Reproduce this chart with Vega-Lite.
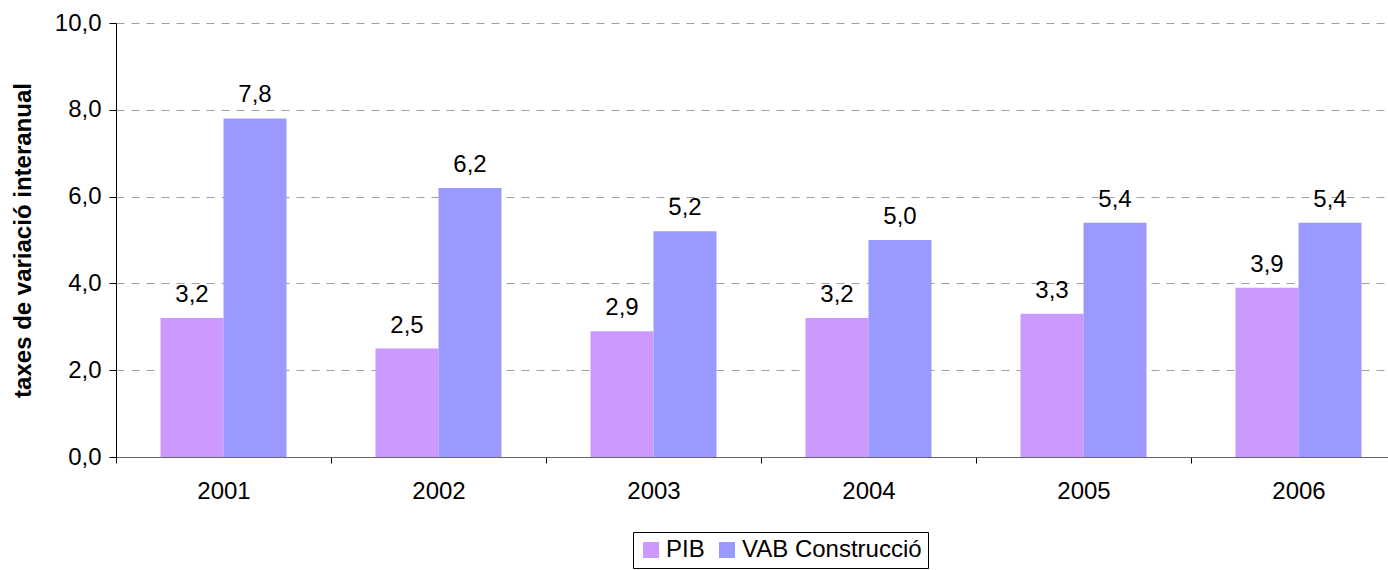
{
  "$schema": "https://vega.github.io/schema/vega-lite/v6.json",
  "width": 1272,
  "height": 434,
  "autosize": {"type": "none"},
  "padding": {"left": 116, "top": 23, "right": 0, "bottom": 113},
  "config": {
    "locale": {"number": {"decimal": ",", "thousands": ".", "grouping": [3], "currency": ["", " €"]}},
    "font": "Liberation Sans",
    "view": {"stroke": null}
  },
  "data": {
    "values": [
      {"year": "2001", "serie": "PIB", "value": 3.2},
      {"year": "2001", "serie": "VAB Construcció", "value": 7.8},
      {"year": "2002", "serie": "PIB", "value": 2.5},
      {"year": "2002", "serie": "VAB Construcció", "value": 6.2},
      {"year": "2003", "serie": "PIB", "value": 2.9},
      {"year": "2003", "serie": "VAB Construcció", "value": 5.2},
      {"year": "2004", "serie": "PIB", "value": 3.2},
      {"year": "2004", "serie": "VAB Construcció", "value": 5.0},
      {"year": "2005", "serie": "PIB", "value": 3.3},
      {"year": "2005", "serie": "VAB Construcció", "value": 5.4},
      {"year": "2006", "serie": "PIB", "value": 3.9},
      {"year": "2006", "serie": "VAB Construcció", "value": 5.4}
    ]
  },
  "encoding": {
    "x": {
      "field": "year",
      "type": "nominal",
      "scale": {"range": [0, 1290], "paddingInner": 0, "paddingOuter": 0},
      "axis": {
        "title": null,
        "labelAngle": 0,
        "labelFontSize": 24,
        "labelColor": "#000",
        "labelPadding": 16,
        "tickBand": "extent",
        "tickSize": 6,
        "tickColor": "#000",
        "domainColor": "#666",
        "grid": false
      }
    },
    "xOffset": {
      "field": "serie",
      "type": "nominal",
      "sort": ["PIB", "VAB Construcció"],
      "scale": {"paddingInner": 0, "paddingOuter": 0.706}
    },
    "y": {
      "field": "value",
      "type": "quantitative",
      "scale": {"domain": [0, 10], "nice": false, "zero": true},
      "axis": {
        "title": "taxes de variació interanual",
        "titleFontSize": 24,
        "titleFontWeight": "bold",
        "titleColor": "#000",
        "titlePadding": 19,
        "values": [0, 2, 4, 6, 8, 10],
        "format": ".1f",
        "labelFontSize": 24,
        "labelColor": "#000",
        "labelPadding": 8,
        "tickSize": 7,
        "tickColor": "#000",
        "domainColor": "#000",
        "grid": true,
        "gridColor": "#a0a0a0",
        "gridDash": [8, 7],
        "gridWidth": 1
      }
    }
  },
  "layer": [
    {
      "mark": {"type": "bar"},
      "encoding": {
        "color": {
          "field": "serie",
          "type": "nominal",
          "sort": ["PIB", "VAB Construcció"],
          "scale": {"domain": ["PIB", "VAB Construcció"], "range": ["#CC99FF", "#9999FF"]},
          "legend": {
            "title": null,
            "orient": "none",
            "legendX": 517,
            "legendY": 509,
            "direction": "horizontal",
            "symbolType": "square",
            "symbolSize": 256,
            "symbolStrokeWidth": 0,
            "labelFontSize": 24,
            "labelLimit": 0,
            "labelColor": "#000",
            "labelOffset": 3,
            "columnPadding": 10,
            "padding": 6,
            "strokeColor": "#000",
            "fillColor": "#fff"
          }
        }
      }
    },
    {
      "mark": {"type": "text", "baseline": "alphabetic", "dy": -16, "fontSize": 24, "color": "#000"},
      "encoding": {
        "text": {"field": "value", "type": "quantitative", "format": ".1f"}
      }
    }
  ]
}
